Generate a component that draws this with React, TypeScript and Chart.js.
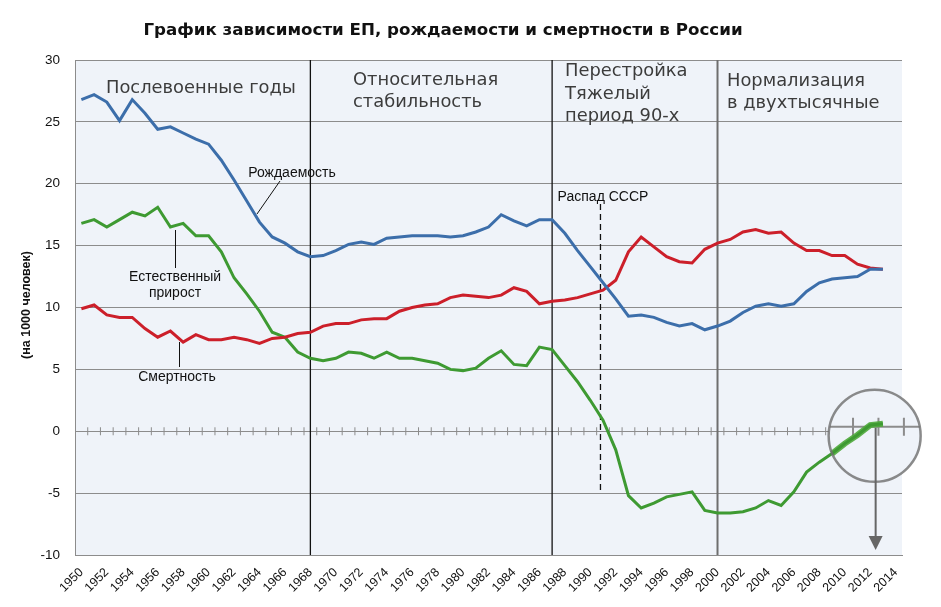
import React, { useEffect, useRef } from "react";
import { Chart, registerables } from "chart.js";

Chart.register(...registerables);

const YEARS = [
  "1950","1951","1952","1953","1954","1955","1956","1957","1958","1959",
  "1960","1961","1962","1963","1964","1965","1966","1967","1968","1969",
  "1970","1971","1972","1973","1974","1975","1976","1977","1978","1979",
  "1980","1981","1982","1983","1984","1985","1986","1987","1988","1989",
  "1990","1991","1992","1993","1994","1995","1996","1997","1998","1999",
  "2000","2001","2002","2003","2004","2005","2006","2007","2008","2009",
  "2010","2011","2012","2013","2014",
];

const BIRTH = [
  26.8, 27.2, 26.6, 25.1, 26.8, 25.7, 24.4, 24.6, 24.1, 23.6,
  23.2, 21.9, 20.3, 18.6, 16.9, 15.7, 15.2, 14.5, 14.1, 14.2,
  14.6, 15.1, 15.3, 15.1, 15.6, 15.7, 15.8, 15.8, 15.8, 15.7,
  15.8, 16.1, 16.5, 17.5, 17.0, 16.6, 17.1, 17.1, 16.0, 14.6,
  13.3, 12.0, 10.7, 9.3, 9.4, 9.2, 8.8, 8.5, 8.7, 8.2,
  8.5, 8.9, 9.6, 10.1, 10.3, 10.1, 10.3, 11.3, 12.0, 12.3,
  12.4, 12.5, 13.1, 13.1,
];

const DEATH = [
  9.9, 10.2, 9.4, 9.2, 9.2, 8.3, 7.6, 8.1, 7.2, 7.8,
  7.4, 7.4, 7.6, 7.4, 7.1, 7.5, 7.6, 7.9, 8.0, 8.5,
  8.7, 8.7, 9.0, 9.1, 9.1, 9.7, 10.0, 10.2, 10.3, 10.8,
  11.0, 10.9, 10.8, 11.0, 11.6, 11.3, 10.3, 10.5, 10.6, 10.8,
  11.1, 11.4, 12.2, 14.5, 15.7, 14.9, 14.1, 13.7, 13.6, 14.7,
  15.2, 15.5, 16.1, 16.3, 16.0, 16.1, 15.2, 14.6, 14.6, 14.2,
  14.2, 13.5, 13.2, 13.1,
];

const NATURAL = [
  16.8, 17.1, 16.5, 17.1, 17.7, 17.4, 18.1, 16.5, 16.8, 15.8,
  15.8, 14.5, 12.4, 11.1, 9.7, 8.0, 7.6, 6.4, 5.9, 5.7,
  5.9, 6.4, 6.3, 5.9, 6.4, 5.9, 5.9, 5.7, 5.5, 5.0,
  4.9, 5.1, 5.9, 6.5, 5.4, 5.3, 6.8, 6.6, 5.3, 4.0,
  2.5, 0.9, -1.5, -5.2, -6.2, -5.8, -5.3, -5.1, -4.9, -6.4,
  -6.6, -6.6, -6.5, -6.2, -5.6, -6.0, -4.9, -3.3, -2.5, -1.8,
  -1.0, -0.3, 0.5, 0.6,
];

const PERIOD_LINES = ["1968", "1987", "2000"];
const USSR_YEAR = "1991";
const ZOOM_FROM = "2009";

const TITLE = "График зависимости ЕП, рождаемости и смертности в России";
const Y_TITLE = "(на 1000 человек)";

const BG = "#eff3f9";
const GRID = "#8c8c8c";
const BLUE = "#3c6eaa";
const RED = "#cc1f2a";
const GREEN = "#3e9a32";
const TEXT_GRAY = "#3c3c3c";
const SANS = '"Liberation Sans", Arial, sans-serif';
const PERIOD_FONT = '"DejaVu Sans", "Open Sans", sans-serif';

function fitSize(ctx: CanvasRenderingContext2D, text: string, weight: string, family: string, target: number) {
  ctx.font = `${weight} 20px ${family}`;
  const w = ctx.measureText(text).width;
  return (20 * target) / w;
}

const overlayPlugin = {
  id: "overlay",
  beforeDraw(chart: any) {
    const { ctx, chartArea } = chart;
    ctx.save();
    ctx.fillStyle = "#ffffff";
    ctx.fillRect(0, 0, chart.width, chart.height);
    ctx.fillStyle = BG;
    ctx.fillRect(chartArea.left, chartArea.top, chartArea.right - chartArea.left, chartArea.bottom - chartArea.top);
    ctx.restore();
  },
  beforeDatasetsDraw(chart: any) {
    const { ctx, chartArea } = chart;
    const xs = chart.scales.x;
    const ys = chart.scales.y;
    const n = YEARS.length;
    const zeroY = ys.getPixelForValue(0);
    const cx = xs.getPixelForValue(62.35);
    const cy = zeroY + 4.5;
    const r = 46;
    ctx.save();

    PERIOD_LINES.forEach((yr) => {
      const x = xs.getPixelForValue(YEARS.indexOf(yr));
      ctx.beginPath();
      ctx.strokeStyle = yr === "2000" ? "#6e6e6e" : "#111111";
      ctx.lineWidth = yr === "2000" ? 2 : 1.3;
      ctx.moveTo(x, chartArea.top);
      ctx.lineTo(x, chartArea.bottom);
      ctx.stroke();
    });

    const ux = xs.getPixelForValue(YEARS.indexOf(USSR_YEAR) - 0.2);
    ctx.beginPath();
    ctx.setLineDash([6, 4]);
    ctx.strokeStyle = "#111";
    ctx.lineWidth = 1.3;
    ctx.moveTo(ux, 204);
    ctx.lineTo(ux, ys.getPixelForValue(-4.8));
    ctx.stroke();
    ctx.setLineDash([]);

    ctx.strokeStyle = GRID;
    ctx.lineWidth = 1;
    for (let i = 1; i < n; i++) {
      const x = xs.getPixelForValue(i - 0.5);
      if (Math.hypot(x - cx, zeroY - cy) < r) continue;
      ctx.beginPath();
      ctx.moveTo(x, zeroY - 4);
      ctx.lineTo(x, zeroY + 4);
      ctx.stroke();
    }

    ctx.save();
    ctx.beginPath();
    ctx.arc(cx, cy, r, 0, Math.PI * 2);
    ctx.clip();
    ctx.fillStyle = BG;
    ctx.fillRect(cx - r, cy - r, 2 * r, 2 * r);
    const mz = cy + 2 * (zeroY - cy);
    ctx.strokeStyle = GRID;
    ctx.lineWidth = 2;
    ctx.beginPath();
    ctx.moveTo(cx - r, mz);
    ctx.lineTo(cx + r, mz);
    ctx.stroke();
    for (let i = 1; i < n; i++) {
      const x0 = xs.getPixelForValue(i - 0.5);
      const x = cx + 2 * (x0 - cx);
      if (Math.abs(x - cx) > r) continue;
      ctx.beginPath();
      ctx.moveTo(x, mz - 9);
      ctx.lineTo(x, mz + 9);
      ctx.stroke();
    }
    ctx.restore();
    ctx.restore();
  },
  afterDatasetsDraw(chart: any) {
    const { ctx } = chart;
    const xs = chart.scales.x;
    const ys = chart.scales.y;
    const zeroY = ys.getPixelForValue(0);
    const cx = xs.getPixelForValue(62.35);
    const cy = zeroY + 4.5;
    const r = 46;
    ctx.save();

    ctx.beginPath();
    ctx.arc(cx, cy, r, 0, Math.PI * 2);
    ctx.strokeStyle = "rgba(110,110,110,0.8)";
    ctx.lineWidth = 2.5;
    ctx.stroke();

    const ax = cx + 1;
    const tipY = ys.getPixelForValue(-9.6);
    ctx.beginPath();
    ctx.strokeStyle = "#666";
    ctx.lineWidth = 2;
    ctx.moveTo(ax, cy - 8);
    ctx.lineTo(ax, tipY - 12);
    ctx.stroke();
    ctx.beginPath();
    ctx.fillStyle = "#666";
    ctx.moveTo(ax - 7, tipY - 14);
    ctx.lineTo(ax + 7, tipY - 14);
    ctx.lineTo(ax, tipY);
    ctx.closePath();
    ctx.fill();

    const ps = fitSize(ctx, "Послевоенные годы", "400", PERIOD_FONT, 190);
    ctx.font = `400 ${ps}px ${PERIOD_FONT}`;
    ctx.fillStyle = TEXT_GRAY;
    ctx.textBaseline = "middle";
    ctx.textAlign = "left";
    ctx.fillText("Послевоенные годы", 106, 88);
    ctx.fillText("Относительная", 353, 80);
    ctx.fillText("стабильность", 353, 102);
    ctx.fillText("Перестройка", 565, 71);
    ctx.fillText("Тяжелый", 565, 94);
    ctx.fillText("период 90-х", 565, 116);
    ctx.fillText("Нормализация", 727, 81);
    ctx.fillText("в двухтысячные", 727, 103);

    ctx.fillStyle = "#111";
    ctx.font = `400 14px ${SANS}`;
    ctx.textAlign = "center";
    ctx.fillText("Рождаемость", 292, 173);
    ctx.fillText("Естественный", 175, 277);
    ctx.fillText("прирост", 175, 293);
    ctx.fillText("Смертность", 177, 377);
    ctx.fillText("Распад СССР", 603, 197);

    ctx.strokeStyle = "#111";
    ctx.lineWidth = 1;
    ctx.beginPath();
    ctx.moveTo(280, 181);
    ctx.lineTo(257, 214);
    ctx.moveTo(175.5, 230);
    ctx.lineTo(175.5, 268);
    ctx.moveTo(179.5, 342);
    ctx.lineTo(179.5, 367);
    ctx.stroke();

    const ts = fitSize(ctx, TITLE, "700", PERIOD_FONT, 600);
    ctx.font = `700 ${ts}px ${PERIOD_FONT}`;
    ctx.fillStyle = "#111";
    ctx.textAlign = "center";
    ctx.fillText(TITLE, 443, 31);

    ctx.save();
    ctx.translate(27, 305);
    ctx.rotate(-Math.PI / 2);
    ctx.font = `700 12.5px ${SANS}`;
    ctx.fillText(Y_TITLE, 0, 0);
    ctx.restore();

    ctx.restore();
  },
};

export default function App() {
  const ref = useRef<HTMLCanvasElement>(null);
  useEffect(() => {
    document.body.style.margin = "0";
    const zoomStart = YEARS.indexOf(ZOOM_FROM);
    const chart = new Chart(ref.current as HTMLCanvasElement, {
      type: "line",
      data: {
        labels: YEARS,
        datasets: [
          { label: "Рождаемость", data: BIRTH, borderColor: BLUE, borderWidth: 3, pointRadius: 0, tension: 0 },
          { label: "Смертность", data: DEATH, borderColor: RED, borderWidth: 3, pointRadius: 0, tension: 0 },
          { label: "Естественный прирост", data: NATURAL, borderColor: GREEN, borderWidth: 3, pointRadius: 0, tension: 0 },
          {
            label: "zoom",
            data: NATURAL.map((v, i) => (i >= zoomStart ? v : null)),
            borderColor: "rgba(78,168,58,0.9)",
            borderWidth: 6,
            pointRadius: 0,
            tension: 0,
          },
        ],
      },
      options: {
        animation: false,
        responsive: false,
        layout: { padding: { top: 60, right: 39, left: 0, bottom: 0 } },
        plugins: { legend: { display: false }, tooltip: { enabled: false }, title: { display: false } },
        scales: {
          x: {
            type: "category",
            offset: true,
            grid: { display: false, drawTicks: false },
            border: { display: true, color: GRID, width: 1 },
            ticks: {
              autoSkip: false,
              maxRotation: 45,
              minRotation: 45,
              padding: 10,
              color: "#111",
              font: { family: SANS, size: 12.5 },
              callback: (_v: any, i: number) => (i % 2 === 0 ? YEARS[i] : ""),
            },
            afterFit: (s: any) => {
              s.height = 52;
            },
          },
          y: {
            min: -10,
            max: 30,
            ticks: { stepSize: 5, padding: 15, color: "#111", font: { family: SANS, size: 13.5 } },
            grid: { color: GRID, drawTicks: false, lineWidth: 1 },
            border: { display: true, color: GRID, width: 1 },
            afterFit: (s: any) => {
              s.width = 75;
            },
          },
        },
      },
      plugins: [overlayPlugin],
    } as any);
    return () => chart.destroy();
  }, []);
  return (
    <div style={{ width: 941, height: 607, position: "relative" }}>
      <canvas ref={ref} width={941} height={607} style={{ display: "block", width: 941, height: 607 }} />
    </div>
  );
}
